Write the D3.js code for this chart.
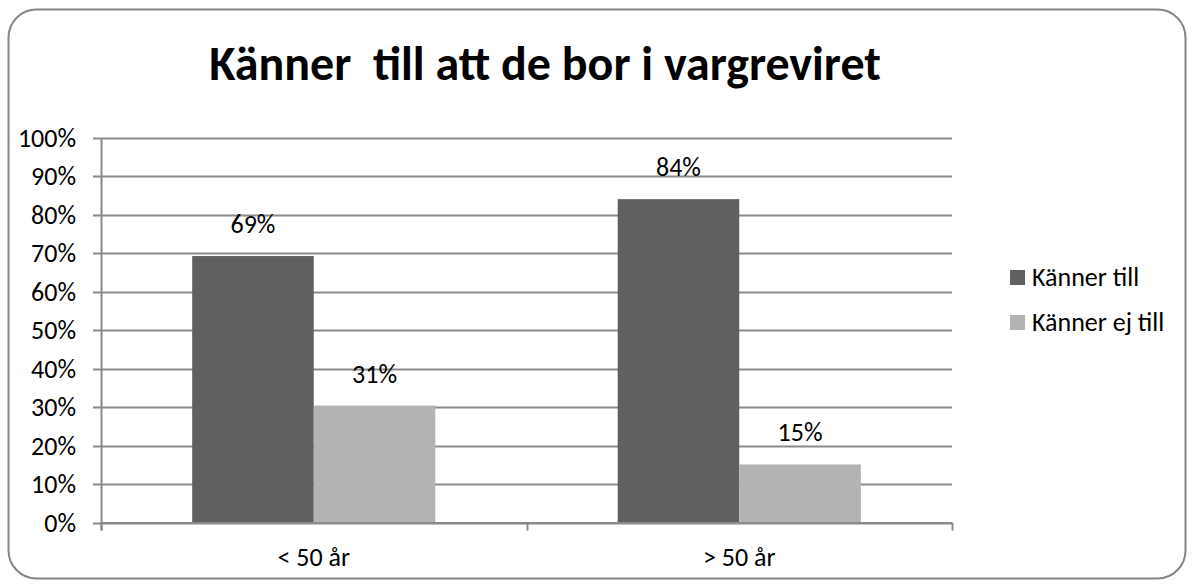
<!DOCTYPE html>
<html>
<head>
<meta charset="utf-8">
<script src="https://cdn.jsdelivr.net/npm/d3@7"></script>
<style>
  body { margin: 0; background: #fff; }
  text { font-family: Calibri, Carlito, Lato, "DejaVu Sans", sans-serif; fill: #000; white-space: pre; }
</style>
</head>
<body>
<div id="chart"></div>
<script>
const WIDTH = 1192;
const HEIGHT = 586;

// data
const categories = ['< 50 år', '> 50 år'];
const seriesNames = ['Känner till', 'Känner ej till'];
const kannerTill = [69.3, 84.1];
const kannerEjTill = [30.4, 15.1];
const labels = [['69%', '31%'], ['84%', '15%']];
const yTicks = [0, 10, 20, 30, 40, 50, 60, 70, 80, 90, 100];
const title = 'Känner  till att de bor i vargreviret';

const colors = ['#606060', '#b3b3b3'];
const gridColor = '#8a8a8a';

var svg = d3.select('#chart')
    .append('svg')
    .attr('width', WIDTH)
    .attr('height', HEIGHT);

// outer rounded frame
svg.append('rect')
    .attr('x', 8.5)
    .attr('y', 9.5)
    .attr('width', 1177)
    .attr('height', 569)
    .attr('rx', 28)
    .attr('fill', '#fff')
    .attr('stroke', '#858585')
    .attr('stroke-width', 2);

svg.append('text')
    .attr('x', 545)
    .attr('y', 80)
    .attr('text-anchor', 'middle')
    .attr('xml:space', 'preserve')
    .style('font-size', '48px')
    .style('font-weight', 'bold')
    .text(title);

const plot = { left: 101, right: 952, top: 138, bottom: 522.5 };

let x0 = d3.scaleBand()
    .domain(categories)
    .range([plot.left, plot.right])
    .paddingInner(0)
    .paddingOuter(0);

// bar group takes the middle of each category, gap width 150%
let groupWidth = x0.bandwidth() * (2 / 3.5);
let x1 = d3.scaleBand()
    .domain(seriesNames)
    .range([0, groupWidth]);

let y = d3.scaleLinear()
    .domain([0, 100])
    .range([plot.bottom, plot.top]);

// gridlines
svg.append('g')
    .selectAll('line')
    .data(yTicks)
    .enter()
    .append('line')
    .attr('x1', plot.left - 8)
    .attr('x2', plot.right)
    .attr('y1', d => Math.round(y(d)) + 0.5)
    .attr('y2', d => Math.round(y(d)) + 0.5)
    .attr('stroke', gridColor)
    .attr('stroke-width', 2);

// y tick labels
svg.append('g')
    .selectAll('text')
    .data(yTicks)
    .enter()
    .append('text')
    .attr('x', 76)
    .attr('y', d => y(d) + 9)
    .attr('text-anchor', 'end')
    .style('font-size', '26px')
    .text(d => d + '%');

// y axis line
svg.append('line')
    .attr('x1', plot.left + 0.5)
    .attr('x2', plot.left + 0.5)
    .attr('y1', plot.top)
    .attr('y2', plot.bottom + 8)
    .attr('stroke', gridColor)
    .attr('stroke-width', 2);

// bars
let rows = [];
for (let i = 0; i < categories.length; i++) {
    rows.push({ cat: categories[i], series: seriesNames[0], value: kannerTill[i], label: labels[i][0], color: colors[0] });
    rows.push({ cat: categories[i], series: seriesNames[1], value: kannerEjTill[i], label: labels[i][1], color: colors[1] });
}

let groupOffset = (x0.bandwidth() - groupWidth) / 2;

svg.append('g')
    .selectAll('rect')
    .data(rows)
    .enter()
    .append('rect')
    .attr('x', d => x0(d.cat) + groupOffset + x1(d.series))
    .attr('y', d => y(d.value))
    .attr('width', x1.bandwidth())
    .attr('height', d => y(0) - y(d.value))
    .attr('fill', d => d.color);

svg.append('g')
    .selectAll('text')
    .data(rows)
    .enter()
    .append('text')
    .attr('x', d => x0(d.cat) + groupOffset + x1(d.series) + x1.bandwidth() / 2)
    .attr('y', d => y(d.value) - 23)
    .attr('text-anchor', 'middle')
    .style('font-size', '26px')
    .text(d => d.label);

// x axis line and ticks
svg.append('line')
    .attr('x1', plot.left)
    .attr('x2', plot.right)
    .attr('y1', plot.bottom + 0.5)
    .attr('y2', plot.bottom + 0.5)
    .attr('stroke', gridColor)
    .attr('stroke-width', 2);

let xTickPos = categories.map(c => x0(c)).concat([plot.right]);
svg.append('g')
    .selectAll('line')
    .data(xTickPos)
    .enter()
    .append('line')
    .attr('x1', d => Math.round(d) + 0.5)
    .attr('x2', d => Math.round(d) + 0.5)
    .attr('y1', plot.bottom)
    .attr('y2', plot.bottom + 8)
    .attr('stroke', gridColor)
    .attr('stroke-width', 2);

svg.append('g')
    .selectAll('text')
    .data(categories)
    .enter()
    .append('text')
    .attr('x', d => x0(d) + x0.bandwidth() / 2)
    .attr('y', 566)
    .attr('text-anchor', 'middle')
    .style('font-size', '26px')
    .text(d => d);

// legend
let legend = svg.append('g')
    .selectAll('g')
    .data(seriesNames)
    .enter()
    .append('g')
    .attr('transform', (d, i) => 'translate(1010,' + (270 + i * 45) + ')');

legend.append('rect')
    .attr('width', 15)
    .attr('height', 15)
    .attr('fill', (d, i) => colors[i]);

legend.append('text')
    .attr('x', 22)
    .attr('y', 16)
    .style('font-size', '26px')
    .text(d => d);
</script>
</body>
</html>
